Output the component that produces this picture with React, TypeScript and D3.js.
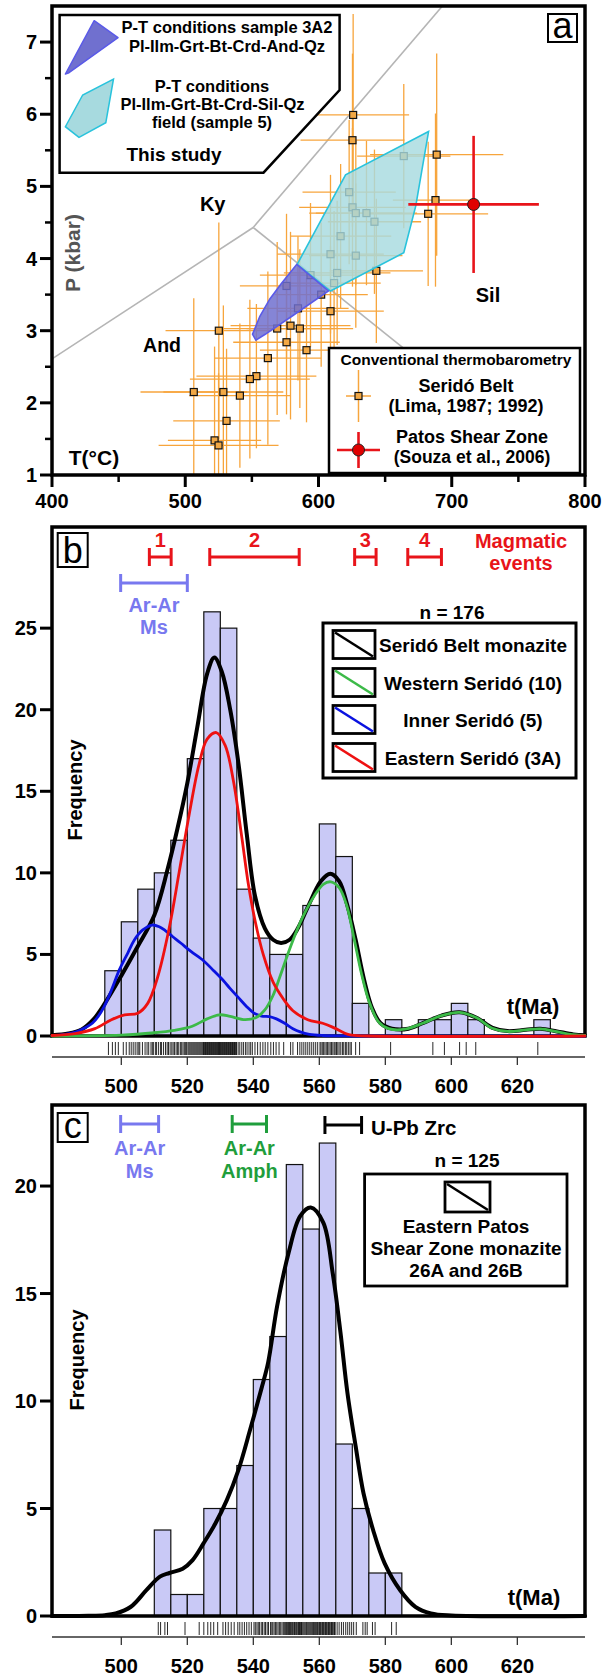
import React, { useEffect, useRef } from "react";
import * as d3 from "d3";

const FONT = "'Liberation Sans', Arial, Helvetica, sans-serif";

// ---------------- panel a : P-T data ----------------
const beltT = [626, 625.5, 688.7, 687.8, 682.3, 643.4, 609, 525.2, 569, 579, 586, 576, 591, 562, 553.4, 548.5, 506.4, 528.6, 541, 531, 522, 525, 576, 594, 602, 584.6, 623, 625.5, 628, 636, 642, 616.6, 609, 628, 614, 611.7, 664];
const beltP = [5.99, 5.64, 5.44, 4.81, 4.62, 3.83, 3.27, 3.0, 3.03, 3.07, 3.03, 2.84, 2.73, 2.62, 2.37, 2.33, 2.15, 2.15, 2.1, 1.75, 1.48, 1.41, 3.62, 3.77, 3.5, 3.31, 4.92, 4.71, 4.63, 4.63, 4.51, 4.31, 4.06, 4.04, 3.8, 3.66, 5.42];
const beltErrT = [42, 39, 50, 32, 45, 35, 40, 40, 42, 45, 40, 40, 35, 40, 45, 45, 40, 45, 38, 40, 35, 45, 35, 38, 35, 38, 35, 40, 35, 38, 35, 38, 40, 35, 40, 35, 35];
const beltErrP = [1.4, 1.2, 1.4, 1.2, 1.0, 1.0, 0.9, 1.5, 1.2, 1.3, 1.1, 1.0, 1.0, 1.2, 1.0, 1.1, 1.3, 1.2, 1.0, 1.0, 1.3, 1.0, 1.0, 1.0, 1.0, 1.0, 1.0, 1.1, 1.0, 1.0, 1.0, 1.0, 1.1, 1.0, 1.0, 1.0, 1.0];
const patos = { T: 716.4, P: 4.75, dT: 49, dP: 0.95 };

const field3A2 = [[583.7, 3.92], [607.5, 3.55], [580, 3.2], [560, 2.95], [553, 2.87], [550.5, 2.95], [556, 3.2], [563.5, 3.44], [572, 3.65]];
const field5 = [[584, 3.92], [620.3, 5.16], [682.6, 5.76], [673, 4.73], [664, 4.08], [609, 3.55]];

const andKy = [[400, 2.61], [551, 4.43]];
const kySil = [[551, 4.43], [693, 7.5]];
const andSil = [[551, 4.43], [700, 2.22]];

const tTicksA = [400, 500, 600, 700, 800];
const tMinorA = [450, 550, 650, 750];
const pTicksA = [1, 2, 3, 4, 5, 6, 7];
const pMinorA = [1.5, 2.5, 3.5, 4.5, 5.5, 6.5];

// ---------------- panel b : Seridó Belt monazite ----------------
const binStartB = [495, 500, 505, 510, 515, 520, 525, 530, 535, 540, 545, 550, 555, 560, 565, 570, 575, 580, 585, 590, 595, 600, 605, 610, 615, 620, 625];
const countB = [4, 7, 9, 10, 12, 17, 26, 25, 9, 6, 5, 5, 8, 13, 11, 2, 0, 1, 0, 1, 1, 2, 1, 0, 0, 0, 1];
const agesB = [
  496.1, 497.3, 498.2, 499.1,
  500.6, 501.5, 502.4, 503.0, 503.6, 504.2, 504.8,
  505.3, 505.6, 506.4, 507.2, 507.8, 508.3, 509.0, 509.4, 509.8,
  510.4, 510.7, 511.3, 511.9, 512.2, 512.8, 513.4, 513.9, 514.3, 514.8,
  515.3, 515.7, 516.1, 516.6, 517.0, 517.4, 517.9, 518.3, 518.7, 519.1, 519.5, 519.8,
  520.2, 520.5, 520.8, 521.1, 521.4, 521.7, 522.0, 522.3, 522.6, 522.9, 523.2, 523.5, 523.8, 524.1, 524.4, 524.7, 524.9,
  525.1, 525.3, 525.5, 525.7, 525.9, 526.1, 526.3, 526.5, 526.7, 526.9, 527.1, 527.3, 527.5, 527.7, 527.9, 528.1, 528.3, 528.5, 528.7, 528.9, 529.1, 529.3, 529.5, 529.6, 529.8, 529.9,
  530.1, 530.3, 530.5, 530.7, 530.9, 531.1, 531.3, 531.5, 531.7, 531.9, 532.1, 532.3, 532.5, 532.7, 532.9, 533.1, 533.3, 533.5, 533.7, 533.9, 534.1, 534.3, 534.5, 534.7, 534.9,
  535.4, 535.9, 536.5, 537.0, 537.6, 538.1, 538.7, 539.2, 539.7,
  540.5, 541.3, 542.1, 542.9, 543.6, 544.4,
  545.3, 546.1, 546.9, 547.8, 549.2,
  551.3, 552.0, 553.4, 554.1, 554.7,
  555.3, 555.9, 556.5, 557.1, 557.7, 558.3, 558.9, 559.5,
  560.2, 560.5, 560.9, 561.3, 561.7, 562.1, 562.5, 562.9, 563.3, 563.7, 564.1, 564.5, 564.8,
  565.2, 565.6, 566.0, 566.5, 567.0, 567.4, 567.9, 568.3, 568.8, 569.3, 569.7,
  571.0, 572.2, 581.6, 594.4, 597.9, 602.5, 604.5, 607.4, 626.2,
];
const beltCurve = [[479, 0.05], [484, 0.15], [488, 0.4], [491.5, 1.0], [495, 2.0], [500, 3.7], [505, 5.5], [510, 7.4], [514, 10.2], [517, 12.7], [520, 15.5], [523, 18.9], [526, 22.2], [528.2, 23.2], [530.5, 22.3], [533, 20], [535.5, 16.7], [538, 12.4], [540.5, 8.6], [543.5, 6.6], [546, 5.9], [548.4, 5.7], [551, 5.9], [553.5, 6.6], [556.5, 7.9], [560.5, 9.5], [563.3, 9.95], [566, 9.5], [568.5, 8.0], [571, 5.9], [573.5, 3.5], [576, 1.7], [578.5, 0.8], [582, 0.45], [587, 0.45], [591.5, 0.8], [597, 1.25], [602.5, 1.45], [607.8, 1.1], [612.5, 0.5], [617, 0.3], [622.5, 0.38], [627, 0.45], [632, 0.28], [637, 0.1], [640.5, 0.05]];
const westernCurve = [[479, 0], [500, 0.05], [510, 0.2], [516, 0.35], [521.5, 0.6], [526, 1.05], [529.7, 1.3], [533, 1.2], [537.5, 1.0], [541, 1.15], [543.5, 1.6], [546, 2.5], [548, 3.6], [551.5, 5.6], [555, 7.3], [558.5, 8.6], [561.2, 9.3], [563.5, 9.45], [566, 9.1], [568.3, 8.0], [570.5, 6.0], [572.8, 3.8], [575.1, 2.1], [578, 0.85], [581, 0.45], [586, 0.42], [591.5, 0.8], [597, 1.25], [602.5, 1.45], [607.8, 1.1], [612.4, 0.48], [617, 0.28], [622.5, 0.37], [627, 0.44], [632, 0.27], [636, 0.1], [640.5, 0.03]];
const innerCurve = [[479, 0.02], [483, 0.1], [486.6, 0.27], [489, 0.5], [491.3, 0.8], [493, 1.2], [494.8, 1.8], [497, 2.8], [499.4, 4.05], [502, 5.1], [504, 5.9], [506.5, 6.5], [509.3, 6.8], [511.5, 6.7], [513.4, 6.45], [515.5, 6.1], [518, 5.7], [521, 5.2], [525, 4.6], [528, 4.0], [530.9, 3.4], [533, 2.9], [535.5, 2.35], [538, 1.8], [540.2, 1.4], [542.5, 1.22], [544.9, 1.19], [547, 1.05], [549.5, 0.78], [552, 0.45], [554.2, 0.25], [557, 0.1], [561, 0.03], [570, 0], [640.5, 0]];
const easternCurve = [[479, 0.03], [486, 0.15], [492, 0.45], [497, 1.0], [501, 1.3], [505, 1.4], [508, 2.0], [511, 3.6], [514.5, 6.6], [517.5, 10], [520.5, 13.5], [523.5, 16.6], [526, 18.2], [528.8, 18.6], [531.5, 17.8], [534, 15.6], [536.5, 12.2], [538.5, 9.3], [540.5, 7.1], [543, 5.0], [546, 3.3], [549, 2.3], [552, 1.55], [556.5, 1.0], [561, 0.78], [564.5, 0.5], [569, 0.08], [575, 0], [640.5, 0]];
const magmaticEvents = [[508.5, 515.1, "1"], [526.8, 553.9, "2"], [570.7, 577.2, "3"], [586.8, 597, "4"]];
const arArMsB = [499.8, 520];
const legendB = [
  ["Seridó Belt monazite", "#000000"],
  ["Western Seridó (10)", "#3cba48"],
  ["Inner Seridó (5)", "#0a12e0"],
  ["Eastern Seridó (3A)", "#ee1111"],
];

// ---------------- panel c : Eastern Patos Shear Zone ----------------
const binStartC = [510, 515, 520, 525, 530, 535, 540, 545, 550, 555, 560, 565, 570, 575, 580];
const countC = [4, 1, 1, 5, 5, 7, 11, 13, 21, 18, 22, 8, 5, 2, 2];
const agesC = [
  511.2, 511.9, 513.2, 514.0,
  519.3, 523.6,
  525.0, 526.2, 527.1, 528.0, 529.2,
  530.8, 531.6, 532.4, 533.3, 534.2,
  535.3, 535.9, 536.6, 537.3, 538.0, 538.7, 539.4,
  540.2, 540.6, 541.1, 541.5, 541.9, 542.4, 542.8, 543.3, 543.7, 544.2, 544.6,
  545.2, 545.6, 545.9, 546.3, 546.7, 547.1, 547.5, 547.9, 548.3, 548.7, 549.1, 549.5, 549.8,
  550.1, 550.3, 550.6, 550.8, 551.0, 551.3, 551.5, 551.8, 552.0, 552.3, 552.5, 552.7, 553.0, 553.2, 553.5, 553.7, 554.0, 554.2, 554.4, 554.6, 554.8,
  555.1, 555.4, 555.7, 556.0, 556.2, 556.5, 556.8, 557.1, 557.4, 557.7, 558.0, 558.2, 558.5, 558.8, 559.1, 559.4, 559.6, 559.9,
  560.1, 560.3, 560.5, 560.8, 561.0, 561.2, 561.4, 561.7, 561.9, 562.1, 562.3, 562.6, 562.8, 563.0, 563.2, 563.5, 563.7, 563.9, 564.1, 564.4, 564.6, 564.8,
  565.4, 566.0, 566.7, 567.3, 568.0, 568.6, 569.2, 569.8,
  570.4, 571.2, 573.2, 573.9, 574.5,
  576.1, 576.9, 581.9, 583.3,
];
const patosCurve = [[479, 0], [490, 0.01], [495, 0.04], [498.3, 0.12], [502.9, 0.43], [507.6, 1.2], [511.7, 1.83], [514.6, 2.0], [518.6, 2.2], [521.6, 2.6], [525, 3.4], [528.5, 4.3], [532, 5.4], [535.5, 6.8], [539, 8.65], [542.5, 10.6], [544.5, 11.8], [547.2, 14.4], [550.7, 16.9], [554.2, 18.6], [557.4, 19.0], [561.2, 18.3], [564.1, 15.9], [566.4, 13.2], [568.5, 10.4], [571, 7.9], [573.4, 5.7], [576.3, 4.0], [579.8, 2.45], [584.5, 1.2], [589.1, 0.43], [593.8, 0.12], [600, 0.02], [640.5, 0]];
const arArMsC = [499.8, 511.3];
const arArAmph = [533.6, 544];
const uPbZrc = [561.7, 572.8];

const ageTicks = [500, 520, 540, 560, 580, 600, 620];
const freqTicksB = [0, 5, 10, 15, 20, 25];
const freqTicksC = [0, 5, 10, 15, 20];

export default function App() {
  const ref = useRef<SVGSVGElement>(null);

  useEffect(() => {
    const svg = d3.select(ref.current);
    svg.selectAll("*").remove();

    const left = 52;
    const right = 585;

    const text = (g: any, x: number, y: number, s: string, size: number, o: any = {}) =>
      g.append("text").attr("x", x).attr("y", y)
        .attr("text-anchor", o.anchor || "middle")
        .attr("font-family", FONT).attr("font-weight", o.weight || "bold")
        .attr("font-size", size).attr("fill", o.fill || "#000")
        .attr("transform", o.rotate ? `rotate(-90,${x},${y})` : null)
        .text(s);

    const panelLabel = (x: number, y: number, w: number, h: number, s: string) => {
      svg.append("rect").attr("x", x).attr("y", y).attr("width", w).attr("height", h)
        .attr("fill", "#fff").attr("stroke", "#000").attr("stroke-width", 2);
      text(svg, x + w / 2, y + h - 4, s, 36, { weight: "normal" });
    };

    // ================= panel a =================
    const xA = d3.scaleLinear().domain([400, 800]).range([left, right]);
    const yA = d3.scaleLinear().domain([1, 7.5]).range([475, 6]);
    svg.append("clipPath").attr("id", "clipA").append("rect")
      .attr("x", left).attr("y", 6).attr("width", right - left).attr("height", 469);
    const plotA = svg.append("g").attr("clip-path", "url(#clipA)");
    const lineA = d3.line<any>().x((d) => xA(d[0])).y((d) => yA(d[1]));

    [andKy, kySil, andSil].forEach((l) =>
      plotA.append("path").attr("d", lineA(l)).attr("fill", "none")
        .attr("stroke", "#b5b5b5").attr("stroke-width", 1.6));

    const orange = "#f7a53c";
    beltT.forEach((T, i) => {
      const P = beltP[i];
      plotA.append("line").attr("x1", xA(T - beltErrT[i])).attr("x2", xA(T + beltErrT[i]))
        .attr("y1", yA(P)).attr("y2", yA(P)).attr("stroke", orange).attr("stroke-width", 1.3);
      plotA.append("line").attr("x1", xA(T)).attr("x2", xA(T))
        .attr("y1", yA(P - beltErrP[i])).attr("y2", yA(P + beltErrP[i]))
        .attr("stroke", orange).attr("stroke-width", 1.3);
    });
    beltT.forEach((T, i) => {
      plotA.append("rect").attr("x", xA(T) - 3.5).attr("y", yA(beltP[i]) - 3.5)
        .attr("width", 7).attr("height", 7).attr("fill", "#f2a845")
        .attr("stroke", "#111").attr("stroke-width", 1.2);
    });

    const closed = d3.line<any>().x((d) => xA(d[0])).y((d) => yA(d[1])).curve(d3.curveLinearClosed);
    plotA.append("path").attr("d", closed(field5)).attr("fill", "#a7dadf").attr("fill-opacity", 0.82)
      .attr("stroke", "#29c3dc").attr("stroke-width", 1.6);
    plotA.append("path").attr("d", closed(field3A2)).attr("fill", "#7070cf").attr("fill-opacity", 0.85)
      .attr("stroke", "#5a5ae8").attr("stroke-width", 1.6);

    // Patos Shear Zone
    plotA.append("line").attr("x1", xA(patos.T - patos.dT)).attr("x2", xA(patos.T + patos.dT))
      .attr("y1", yA(patos.P)).attr("y2", yA(patos.P)).attr("stroke", "#e8141a").attr("stroke-width", 2.6);
    plotA.append("line").attr("x1", xA(patos.T)).attr("x2", xA(patos.T))
      .attr("y1", yA(patos.P - patos.dP)).attr("y2", yA(patos.P + patos.dP))
      .attr("stroke", "#e8141a").attr("stroke-width", 2.6);
    plotA.append("circle").attr("cx", xA(patos.T)).attr("cy", yA(patos.P)).attr("r", 6)
      .attr("fill", "#e00000").attr("stroke", "#222").attr("stroke-width", 1);

    text(svg, 212.7, 211, "Ky", 20);
    text(svg, 488, 302, "Sil", 20);
    text(svg, 162, 352, "And", 19.5);
    text(svg, 94, 465, "T(°C)", 21);
    text(svg, 80, 253, "P (kbar)", 21, { rotate: true, fill: "#555" });

    // frame + ticks
    svg.append("rect").attr("x", left).attr("y", 6).attr("width", right - left).attr("height", 469)
      .attr("fill", "none").attr("stroke", "#000").attr("stroke-width", 3.5);
    tTicksA.forEach((t) => {
      svg.append("line").attr("x1", xA(t)).attr("x2", xA(t)).attr("y1", 475).attr("y2", 487)
        .attr("stroke", "#000").attr("stroke-width", 3);
      text(svg, xA(t), 508, String(t), 20);
    });
    tMinorA.forEach((t) => svg.append("line").attr("x1", xA(t)).attr("x2", xA(t))
      .attr("y1", 475).attr("y2", 482).attr("stroke", "#000").attr("stroke-width", 2.5));
    pTicksA.forEach((p) => {
      svg.append("line").attr("x1", 40).attr("x2", left).attr("y1", yA(p)).attr("y2", yA(p))
        .attr("stroke", "#000").attr("stroke-width", 3);
      text(svg, 37, yA(p) + 7, String(p), 20, { anchor: "end" });
    });
    pMinorA.forEach((p) => svg.append("line").attr("x1", 45).attr("x2", left)
      .attr("y1", yA(p)).attr("y2", yA(p)).attr("stroke", "#000").attr("stroke-width", 2.5));

    // legend: this study
    svg.append("path").attr("d", "M59.6,15 L339.6,15 L339.6,90 L263.5,172.7 L59.6,172.7 Z")
      .attr("fill", "#fff").attr("stroke", "#000").attr("stroke-width", 2.5);
    svg.append("path").attr("d", "M65.4,74 L94.2,20.7 L118,37.7 L69,72.7 Z")
      .attr("fill", "#7070cf").attr("stroke", "#5a5ae8").attr("stroke-width", 1.5).attr("stroke-linejoin", "round");
    svg.append("path").attr("d", "M79,137.3 L65.4,126.7 L82.7,95 L113.5,79 L105.8,122.7 Z")
      .attr("fill", "#a7dadf").attr("stroke", "#29c3dc").attr("stroke-width", 1.5);
    text(svg, 227, 33, "P-T conditions sample 3A2", 16.5);
    text(svg, 227, 52, "Pl-Ilm-Grt-Bt-Crd-And-Qz", 16.5);
    text(svg, 212, 92, "P-T conditions", 16.5);
    text(svg, 212.5, 110, "Pl-Ilm-Grt-Bt-Crd-Sil-Qz", 16.5);
    text(svg, 212, 128, "field (sample 5)", 16.5);
    text(svg, 174, 161, "This study", 19);

    // legend: conventional thermobarometry
    svg.append("rect").attr("x", 329).attr("y", 348).attr("width", 251).attr("height", 125)
      .attr("fill", "#fff").attr("stroke", "#000").attr("stroke-width", 2.5);
    text(svg, 456, 365, "Conventional thermobarometry", 15.5);
    svg.append("line").attr("x1", 358.5).attr("x2", 358.5).attr("y1", 370).attr("y2", 422).attr("stroke", orange).attr("stroke-width", 1.5);
    svg.append("line").attr("x1", 346).attr("x2", 371).attr("y1", 396).attr("y2", 396).attr("stroke", orange).attr("stroke-width", 1.5);
    svg.append("rect").attr("x", 355).attr("y", 392.5).attr("width", 7).attr("height", 7)
      .attr("fill", "#f2a845").attr("stroke", "#111").attr("stroke-width", 1.2);
    text(svg, 466, 392, "Seridó Belt", 18);
    text(svg, 466, 412, "(Lima, 1987; 1992)", 18);
    svg.append("line").attr("x1", 358.5).attr("x2", 358.5).attr("y1", 432).attr("y2", 468).attr("stroke", "#e8141a").attr("stroke-width", 2.6);
    svg.append("line").attr("x1", 337).attr("x2", 380).attr("y1", 450).attr("y2", 450).attr("stroke", "#e8141a").attr("stroke-width", 2.6);
    svg.append("circle").attr("cx", 358.5).attr("cy", 450).attr("r", 6).attr("fill", "#e00000").attr("stroke", "#222");
    text(svg, 472, 443, "Patos Shear Zone", 18);
    text(svg, 472, 463, "(Souza et al., 2006)", 17.5);

    panelLabel(548, 14, 29, 28, "a");

    // ================= histogram panels =================
    const xB = d3.scaleLinear().domain([479, 640.5]).range([left, right]);
    const curve = (g: any, y: any, data: number[][], color: string, w: number) =>
      g.append("path").attr("d", d3.line<any>().x((d) => xB(d[0])).y((d) => y(d[1]))
        .curve(d3.curveCatmullRom.alpha(0.5))(data))
        .attr("fill", "none").attr("stroke", color).attr("stroke-width", w)
        .attr("stroke-linejoin", "round").attr("stroke-linecap", "round");

    const histPanel = (top: number, bottom: number, yMax: number, starts: number[], counts: number[], ages: number[], yTicks: number[]) => {
      const y = d3.scaleLinear().domain([0, yMax]).range([bottom, top]);
      const g = svg.append("g");
      starts.forEach((s, i) => {
        if (!counts[i]) return;
        g.append("rect").attr("x", xB(s)).attr("y", y(counts[i]))
          .attr("width", xB(s + 5) - xB(s)).attr("height", bottom - y(counts[i]))
          .attr("fill", "#c9c9f6").attr("stroke", "#111").attr("stroke-width", 1.2);
      });
      // rug
      ages.forEach((a) => g.append("line").attr("x1", xB(a)).attr("x2", xB(a))
        .attr("y1", bottom + 6).attr("y2", bottom + 19).attr("stroke", "#111").attr("stroke-width", 0.9));
      // age axis
      g.append("line").attr("x1", left).attr("x2", right).attr("y1", bottom + 21).attr("y2", bottom + 21)
        .attr("stroke", "#333").attr("stroke-width", 1.3);
      ageTicks.forEach((t) => {
        g.append("line").attr("x1", xB(t)).attr("x2", xB(t)).attr("y1", bottom + 21).attr("y2", bottom + 29)
          .attr("stroke", "#333").attr("stroke-width", 1.3);
        text(g, xB(t), bottom + 57, String(t), 20);
      });
      yTicks.forEach((v) => {
        g.append("line").attr("x1", 40).attr("x2", left).attr("y1", y(v)).attr("y2", y(v))
          .attr("stroke", "#000").attr("stroke-width", 3);
        text(g, 37, y(v) + 7, String(v), 20, { anchor: "end" });
      });
      return { g, y };
    };
    const frame = (top: number, bottom: number) =>
      svg.append("rect").attr("x", left).attr("y", top).attr("width", right - left).attr("height", bottom - top)
        .attr("fill", "none").attr("stroke", "#000").attr("stroke-width", 3.5);

    const errBar = (g: any, a: number, b: number, yy: number, color: string, cap: number) => {
      g.append("line").attr("x1", xB(a)).attr("x2", xB(b)).attr("y1", yy).attr("y2", yy).attr("stroke", color).attr("stroke-width", 3);
      [a, b].forEach((t) => g.append("line").attr("x1", xB(t)).attr("x2", xB(t))
        .attr("y1", yy - cap).attr("y2", yy + cap).attr("stroke", color).attr("stroke-width", 3));
    };

    // ---------- panel b ----------
    const topB = 527, botB = 1036;
    const pb = histPanel(topB, botB, 31.2, binStartB, countB, agesB, freqTicksB);
    frame(topB, botB);
    curve(svg, pb.y, beltCurve, "#000", 4);
    curve(svg, pb.y, innerCurve, "#0a12e0", 2.8);
    curve(svg, pb.y, westernCurve, "#3cba48", 2.8);
    curve(svg, pb.y, easternCurve, "#ee1111", 2.8);

    const red = "#e8141a";
    magmaticEvents.forEach(([a, b, l]: any) => {
      errBar(svg, a, b, 557, red, 9);
      text(svg, xB((a + b) / 2), 547, l, 20, { fill: red });
    });
    text(svg, 521, 548, "Magmatic", 20, { fill: red });
    text(svg, 521, 570, "events", 20, { fill: red });
    const purple = "#7878ef";
    errBar(svg, arArMsB[0], arArMsB[1], 583, purple, 9);
    text(svg, xB((arArMsB[0] + arArMsB[1]) / 2), 612, "Ar-Ar", 20, { fill: purple });
    text(svg, xB((arArMsB[0] + arArMsB[1]) / 2), 634, "Ms", 20, { fill: purple });
    text(svg, 452, 619, "n = 176", 19);

    svg.append("rect").attr("x", 323).attr("y", 623).attr("width", 253).attr("height", 155)
      .attr("fill", "#fff").attr("stroke", "#000").attr("stroke-width", 3);
    const legY = [644.5, 682.5, 719.5, 757.5];
    legendB.forEach(([label, color], i) => {
      const cy = legY[i];
      svg.append("rect").attr("x", 333).attr("y", cy - 14).attr("width", 42).attr("height", 28)
        .attr("fill", "#fff").attr("stroke", "#000").attr("stroke-width", 2.8);
      svg.append("line").attr("x1", 335).attr("y1", cy - 12).attr("x2", 373).attr("y2", cy + 12)
        .attr("stroke", color).attr("stroke-width", 2.6);
      text(svg, 473, cy + 7.5, label, 19);
    });
    text(svg, 82, 790, "Frequency", 20, { rotate: true });
    text(svg, 533, 1014, "t(Ma)", 22);
    panelLabel(57.7, 533, 30, 34, "b");

    // ---------- panel c ----------
    const topC = 1105, botC = 1616;
    const pc = histPanel(topC, botC, 23.77, binStartC, countC, agesC, freqTicksC);
    frame(topC, botC);
    curve(svg, pc.y, patosCurve, "#000", 4);

    errBar(svg, arArMsC[0], arArMsC[1], 1124, purple, 9);
    text(svg, xB((arArMsC[0] + arArMsC[1]) / 2), 1155, "Ar-Ar", 20, { fill: purple });
    text(svg, xB((arArMsC[0] + arArMsC[1]) / 2), 1178, "Ms", 20, { fill: purple });
    const green = "#1f9e3c";
    errBar(svg, arArAmph[0], arArAmph[1], 1124, green, 9);
    text(svg, xB((arArAmph[0] + arArAmph[1]) / 2), 1155, "Ar-Ar", 20, { fill: green });
    text(svg, xB((arArAmph[0] + arArAmph[1]) / 2), 1178, "Amph", 20, { fill: green });
    errBar(svg, uPbZrc[0], uPbZrc[1], 1125, "#000", 9);
    text(svg, 371, 1135, "U-Pb Zrc", 20.5, { anchor: "start" });
    text(svg, 467, 1167, "n = 125", 19);

    svg.append("rect").attr("x", 364.6).attr("y", 1174).attr("width", 202.4).attr("height", 112)
      .attr("fill", "#fff").attr("stroke", "#000").attr("stroke-width", 2.8);
    svg.append("rect").attr("x", 445).attr("y", 1182).attr("width", 45).attr("height", 30)
      .attr("fill", "#fff").attr("stroke", "#000").attr("stroke-width", 2.8);
    svg.append("line").attr("x1", 447).attr("y1", 1184).attr("x2", 488).attr("y2", 1210)
      .attr("stroke", "#000").attr("stroke-width", 2.6);
    text(svg, 466, 1233, "Eastern Patos", 19);
    text(svg, 466, 1255, "Shear Zone monazite", 19);
    text(svg, 466, 1277, "26A and 26B", 19);
    text(svg, 84, 1360, "Frequency", 20, { rotate: true });
    text(svg, 534, 1605, "t(Ma)", 22);
    panelLabel(57.7, 1113, 30, 29, "c");
  }, []);

  return (
    <svg ref={ref} width={602} height={1677}
      style={{ position: "absolute", left: 0, top: 0, background: "#fff" }} />
  );
}
